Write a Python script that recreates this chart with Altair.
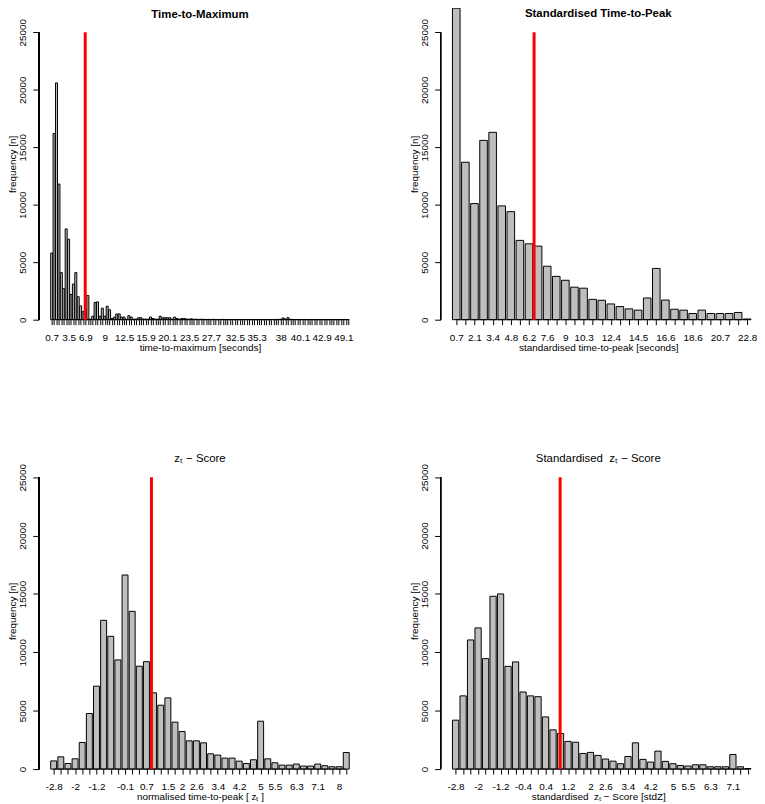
import altair as alt
import pandas as pd

FONT = "Liberation Sans"
BAR_FILL = "#bebebe"
Y_TOP = 25000          # top of the drawn y axis
Y_LIM = 27100          # top of the plotting region (tallest bar fits under it)
Y_TICKS = [0, 5000, 10000, 15000, 20000, 25000]

# ---------------- Panel 1: Time-to-Maximum ----------------
ttm_counts = [
    5800, 16200, 20600, 11800, 4100, 2700, 7900, 7000, 2200, 3100,
    4100, 2000, 1200, 700, 900, 2100, 50, 300, 1500, 1550,
    300, 1000, 300, 1170, 860, 100, 230, 500, 500, 230,
    230, 50, 350, 230, 50, 50, 170, 170, 50, 50,
    50, 230, 100, 50, 50, 300, 170, 170, 170, 170,
    50, 230, 100, 50, 100, 100, 60, 40, 80, 30,
    50, 20, 40, 30, 20, 30, 20, 30, 20, 10,
    20, 30, 10, 20, 10, 20, 10, 20, 10, 10,
    20, 10, 10, 20, 10, 10, 20, 10, 10, 20,
    10, 10, 20, 10, 30, 40, 150, 60, 180, 40,
    20, 10, 20, 10, 10, 20, 10, 10, 20, 10,
    10, 10, 20, 10, 10, 10, 10, 20, 10, 10,
    10, 10, 20, 10,
]
ttm_tick_pos = [1, 8, 15, 23, 31, 40, 49, 58, 67, 77, 86, 96, 104, 113, 122]
ttm_tick_lbl = ["0.7", "3.5", "6.9", "9", "12.5", "15.9", "20.1", "23.5",
                "27.7", "32.5", "35.3", "38", "40.1", "42.9", "49.1"]
ttm_mean_pos = 14.9

# ---------------- Panel 2: Standardised Time-to-Peak ----------------
sttp_counts = [27100, 13700, 10100, 15600, 16300, 9900, 9400, 6900, 6600, 6400,
               4650, 3770, 3430, 2830, 2740, 1770, 1690, 1370, 1140, 940,
               830, 1890, 4460, 1710, 910, 830, 540, 830, 540, 540,
               540, 630, 60]
sttp_tick_pos = [1, 3, 5, 7, 9, 11, 13, 15, 18, 21, 24, 27, 30, 33]
sttp_tick_lbl = ["0.7", "2.1", "3.4", "4.8", "6.2", "7.6", "9", "10.3",
                 "12.4", "14.5", "16.6", "18.6", "20.7", "22.8"]
sttp_mean_pos = 9.56

# ---------------- Panel 3: z-Score ----------------
z_counts = [700, 1050, 480, 880, 2280, 4760, 7100, 12740, 11370, 9350,
            16620, 13510, 8810, 9200, 6530, 5470, 6100, 4020, 3220, 2420,
            2420, 2250, 1310, 1200, 940, 940, 680, 480, 800, 4100,
            880, 540, 340, 340, 430, 260, 260, 430, 290, 200,
            200, 1420]
z_tick_pos = [1, 4, 7, 11, 14, 17, 19, 21, 24, 27, 30, 32, 35, 38, 41]
z_tick_lbl = ["-2.8", "-2", "-1.2", "-0.1", "0.7", "1.5", "2", "2.6",
              "3.4", "4.2", "5", "5.5", "6.3", "7.1", "8"]
z_mean_pos = 14.7

# ---------------- Panel 4: Standardised z-Score ----------------
sz_counts = [4190, 6270, 11060, 12090, 9460, 14800, 15000, 8800, 9180, 6600,
             6270, 6200, 4470, 3360, 3050, 2370, 2300, 1340, 1430, 1170,
             860, 680, 460, 1080, 2250, 830, 600, 1540, 660, 460,
             310, 260, 370, 370, 200, 200, 200, 1250, 200, 50]
sz_tick_pos = [1, 4, 7, 10, 13, 16, 19, 21, 24, 27, 30, 32, 35, 38]
sz_tick_lbl = ["-2.8", "-2", "-1.2", "-0.4", "0.4", "1.2", "2", "2.6",
               "3.4", "4.2", "5", "5.5", "6.3", "7.1"]
sz_mean_pos = 14.95

HALF = 0.5 / 1.2          # half bar width in slot units (R barplot space = 0.2)
FULL_W = 325              # width of R's plotting region


def r_domain(n, width):
    lo_b, hi_b = 1 - HALF, n + HALF
    ext = 0.04 * (hi_b - lo_b)
    lo, hi = lo_b - ext, hi_b + ext
    hi = lo + (hi - lo) * width / FULL_W
    return [lo, hi]


def panel(counts, tick_pos, tick_lbl, mean_pos, title, weight, xtitle, width, height):
    n = len(counts)
    df = pd.DataFrame({"bar": list(range(1, n + 1)), "count": counts})
    labels = [""] * n
    for p, l in zip(tick_pos, tick_lbl):
        labels[p - 1] = l
    label_expr = "[" + ",".join("'%s'" % l for l in labels) + "][datum.value - 1]"

    dom = r_domain(n, width)
    xs = alt.Scale(domain=dom, nice=False, zero=False)
    ys = alt.Scale(domain=[0, Y_LIM], nice=False, zero=True)

    xaxis = alt.Axis(values=list(range(1, n + 1)), labelExpr=label_expr, title=xtitle,
                     domain=False, grid=False, ticks=True, tickSize=5, labelPadding=16,
                     labelBaseline="alphabetic", labelAlign="center", labelAngle=0,
                     labelOverlap=False, labelFlush=False, titleY=31,
                     titleBaseline="alphabetic")
    yaxis = alt.Axis(values=Y_TICKS, title="frequency [n]", grid=False, tickSize=6,
                     domain=False, labelPadding=7, labelAngle=270, labelAlign="center",
                     labelBaseline="alphabetic", format="d", titleX=-23,
                     titleAngle=270, titleBaseline="alphabetic")

    bars = alt.Chart(df).transform_calculate(
        left=f"datum.bar - {HALF}", right=f"datum.bar + {HALF}"
    ).mark_bar(fill=BAR_FILL, stroke="black", strokeWidth=1).encode(
        x=alt.X("left:Q", scale=xs, axis=xaxis),
        x2="right:Q",
        y=alt.Y("count:Q", scale=ys, axis=yaxis),
        y2=alt.datum(0),
    )
    baseline = alt.Chart(df).mark_rule(color="black", strokeWidth=1).encode(
        x=alt.X("min(bar):Q", scale=xs, axis=xaxis),
        x2="max(bar):Q",
        y=alt.datum(0),
    )
    yline = alt.Chart(df).mark_rule(color="black", strokeWidth=1).encode(
        x=alt.value(0),
        y=alt.datum(0),
        y2=alt.datum(Y_TOP),
    )
    mean_df = pd.DataFrame({"pos": [mean_pos]})
    red = alt.Chart(mean_df).mark_rule(color="#ff0000", strokeWidth=3).encode(
        x=alt.X("pos:Q", scale=xs, axis=xaxis),
        y=alt.datum(0),
        y2=alt.datum(Y_TOP),
    )
    return alt.layer(bars, baseline, yline, red).properties(
        width=width, height=height,
        title=alt.TitleParams(text=title, fontWeight=weight, frame="group",
                              anchor="middle", baseline="top", offset=-12),
    )


p1 = panel(ttm_counts, ttm_tick_pos, ttm_tick_lbl, ttm_mean_pos,
           "Time-to-Maximum", "bold", "time-to-maximum [seconds]", 325, 314)
p2 = panel(sttp_counts, sttp_tick_pos, sttp_tick_lbl, sttp_mean_pos,
           "Standardised Time-to-Peak", "bold", "standardised time-to-peak [seconds]", 318, 314)
p3 = panel(z_counts, z_tick_pos, z_tick_lbl, z_mean_pos,
           "zₜ − Score", "normal", "normalised time-to-peak [ zₜ ]", 325, 319)
p4 = panel(sz_counts, sz_tick_pos, sz_tick_lbl, sz_mean_pos,
           "Standardised\u00a0 zₜ − Score", "normal", "standardised\u00a0 zₜ − Score [stdZ]", 318, 319)

chart = alt.vconcat(
    alt.hconcat(p1, p2, spacing=49),
    alt.hconcat(p3, p4, spacing=49),
    spacing=101,
).properties(
    padding={"top": -4, "left": 0, "right": 0, "bottom": 0}
).configure_view(stroke=None).configure_axis(
    labelFont=FONT, titleFont=FONT, labelFontSize=10, titleFontSize=10,
    labelColor="black", titleColor="black", tickColor="black", domainColor="black",
    titleFontWeight="normal", tickWidth=1, domainWidth=1,
).configure_title(font=FONT, fontSize=11.5, color="black")

chart.save("out.html", embed_options={"renderer": "svg", "actions": False})
